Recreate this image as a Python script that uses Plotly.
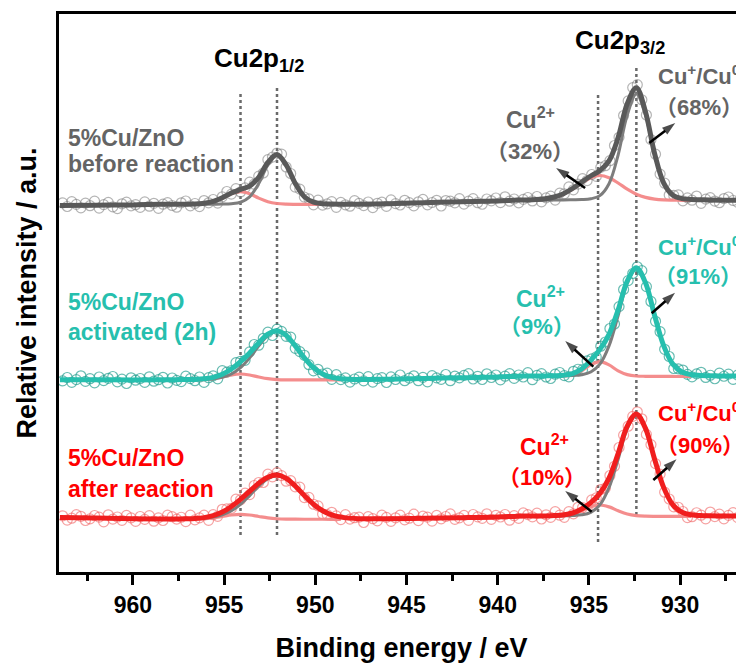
import plotly.graph_objects as go

# ---------------- measured points (binding energy, eV) ----------------
E_data = [963.85, 963.6, 963.35, 963.1, 962.85, 962.6, 962.35, 962.1, 961.85, 961.6, 961.35, 961.1, 960.85,
          960.6, 960.35, 960.1, 959.85, 959.6, 959.35, 959.1, 958.85, 958.6, 958.35, 958.1, 957.85, 957.6,
          957.35, 957.1, 956.85, 956.6, 956.35, 956.1, 955.85, 955.6, 955.35, 955.1, 954.85, 954.6, 954.35,
          954.1, 953.85, 953.6, 953.35, 953.1, 952.85, 952.6, 952.35, 952.1, 951.85, 951.6, 951.35, 951.1,
          950.85, 950.6, 950.35, 950.1, 949.85, 949.6, 949.35, 949.1, 948.85, 948.6, 948.35, 948.1, 947.85, 947.6,
          947.35, 947.1, 946.85, 946.6, 946.35, 946.1, 945.85, 945.6, 945.35, 945.1, 944.85, 944.6, 944.35,
          944.1, 943.85, 943.6, 943.35, 943.1, 942.85, 942.6, 942.35, 942.1, 941.85, 941.6, 941.35, 941.1,
          940.85, 940.6, 940.35, 940.1, 939.85, 939.6, 939.35, 939.1, 938.85, 938.6,
          938.35, 938.1, 937.85, 937.6, 937.35, 937.1, 936.85, 936.6, 936.35, 936.1, 935.85, 935.6, 935.35,
          935.1, 934.85, 934.6, 934.35, 934.1, 933.85, 933.6, 933.35, 933.1, 932.85, 932.6, 932.35, 932.1,
          931.85, 931.6, 931.35, 931.1, 930.85, 930.6, 930.35, 930.1, 929.85, 929.6, 929.35, 929.1, 928.85,
          928.6, 928.35, 928.1, 927.85, 927.6, 927.35, 927.1, 926.85, 926.6]

gray_data = [369.1, 365.5, 370.4, 367.6, 364.2, 368.9, 366.3, 370.8, 363.9, 367.4, 369.6, 365.1, 363.4, 368.2,
             369.9, 366.1, 367.3, 364.6, 370.1, 365.8, 368.7, 363.7, 367.8, 369.4, 366.5, 364.8,
             369.2, 371.0, 366.1, 368.5, 365.4, 371.45, 369.2, 372.5, 368.95, 375.2, 380.5, 377.9, 383.3, 380.05,
             384.1, 389.9, 387.8, 395.9, 399.0, 412.4, 414.9, 419.0, 417.9, 405.0, 398.5, 384.85, 382.9, 374.9,
             373.1, 367.2, 371.8, 366.95, 368.2, 370.4, 364.65, 369.6, 367.2, 365.8, 371.3, 368.65,
             366.4, 370.0, 364.45, 368.7, 369.8, 365.6, 372.15, 368.4, 367.0, 371.7, 369.35, 366.1, 370.2, 372.6,
             367.15, 369.5, 371.7, 366.0, 371.45, 370.8, 369.2, 373.4, 367.95, 370.9, 373.3, 369.3, 367.75, 373.0,
             371.2, 374.0, 369.45, 375.2, 370.8, 373.0, 369.15, 372.6,
             374.5, 371.05, 375.5, 370.2, 374.1, 375.8, 371.9, 378.9, 378.2, 385.1, 382.2, 387.95, 393.4, 391.45,
             397.5, 395.6, 404.6, 406.3, 411.3, 426.5, 434.7, 456.5, 471.05, 484.4, 487.3, 472.25, 457.0, 432.4,
             417.8, 397.9, 388.8, 376.95, 376.6, 377.1, 371.2, 374.1, 371.8, 375.95, 368.7, 372.9, 374.4, 370.95,
             369.3, 373.45, 375.0, 371.5, 369.6, 373.85]

teal_data = [191.1, 194.5, 189.7, 192.4, 196.2, 190.6, 193.3, 189.2, 195.0, 191.4, 193.7, 195.5, 190.1, 192.9,
             188.5, 194.2, 191.8, 193.5, 189.6, 195.2, 190.8, 192.3, 194.7, 189.0, 194.0, 191.6,
             190.4, 195.9, 193.4, 191.3, 195.0, 189.6, 194.3, 196.2, 193.2, 201.4, 199.9, 201.3, 209.4, 210.7,
             211.7, 220.1, 227.5, 226.8, 233.7, 239.8, 236.5, 242.8, 240.6, 235.65, 234.9, 223.7, 220.4, 216.75,
             207.3, 201.1, 202.7, 198.0, 198.8, 192.7, 197.4, 192.35, 194.1, 189.85, 193.0, 194.85,
             191.1, 195.4, 189.9, 193.4, 194.4, 189.5, 195.1, 192.5, 197.0, 191.3, 193.9, 196.2, 191.3, 194.6,
             190.2, 196.3, 194.1, 192.6, 197.5, 191.3, 195.9, 194.1, 196.6, 198.3, 193.0, 195.7, 192.5, 198.2,
             194.5, 197.0, 192.2, 195.8, 198.4, 193.6, 197.0, 195.0,
             199.4, 192.3, 196.7, 198.3, 195.0, 193.5, 197.8, 199.5, 196.4, 195.2, 200.7, 202.75, 202.3, 211.1,
             213.2, 215.1, 225.8, 230.0, 243.5, 248.0, 265.4, 282.5, 291.4, 298.5, 305.25, 301.4, 285.4, 270.55,
             250.7, 240.3, 222.7, 215.5, 203.5, 203.1, 201.95, 197.65, 195.1, 198.15, 199.7, 194.55, 196.75,
             193.25, 198.8, 195.76, 197.9, 192.6, 196.9, 199.55]

red_data = [56.2, 51.9, 53.8, 57.3, 55.7, 51.5, 53.1, 56.5, 54.9, 50.1, 57.2, 52.9, 55.0, 51.7, 56.6, 54.1,
            50.6, 55.5, 52.6, 56.4, 50.8, 54.1, 51.5, 56.9, 55.3, 52.9,
            54.75, 50.34, 56.8, 52.16, 54.1, 56.9, 51.7, 57.3, 55.7, 62.7, 63.1, 63.6, 72.9, 72.2, 78.9, 77.4,
            86.5, 89.5, 89.5, 97.8, 95.2, 99.4, 96.4, 90.8, 91.4, 85.1, 84.9, 74.45, 74.6, 67.74, 66.1, 58.0,
            57.4, 59.7, 56.1, 52.4, 57.4, 52.9, 54.3, 54.86,
            49.5, 55.4, 53.3, 51.2, 56.9, 54.65, 50.7, 54.2, 56.8, 52.2, 53.8, 57.8, 51.4, 55.8, 54.9, 50.85,
            56.6, 53.2, 55.5, 58.1, 52.7, 54.2, 56.6, 51.7, 57.5, 55.15, 53.7, 58.2, 52.7, 56.6, 55.0, 57.5,
            51.8, 56.3, 53.6, 59.05,
            57.4, 55.1, 58.8, 53.0, 57.2, 54.6, 60.4, 56.8, 54.7, 60.3, 58.2, 64.7, 64.45, 63.0, 72.05, 74.1,
            82.5, 83.8, 96.5, 105.75, 124.5, 136.8, 145.8, 155.6, 160.2, 153.2, 137.6, 127.4, 108.4, 97.8, 79.8,
            73.0, 65.2, 64.75, 60.5, 54.4, 55.3, 59.25, 56.8, 53.15, 59.97, 55.36, 57.9, 53.2, 56.6, 59.35,
            54.4, 58.0]

# ---------------- fitted envelopes ----------------
E_fit = [964, 962, 960, 958.6, 957.6, 957.1, 956.6, 956.1, 955.6, 955.1, 954.6, 954.1, 953.6, 953.1, 952.6,
         952.1, 951.6, 951.1, 950.6, 950.1, 949.6, 949.1, 948.6, 947.6, 946, 944, 942, 940, 938.9, 938.4,
         937.9, 937.4, 936.9, 936.4, 935.9, 935.4, 934.9, 934.4, 933.9, 933.4, 932.9, 932.4, 931.9, 931.4,
         930.9, 930.4, 929.9, 929.4, 928.9, 928.4, 927.4, 926.5]

gray_fit = [366.5, 366.8, 367.1, 367.7, 367.75, 367.83, 368.03, 368.75, 370.6, 374.3, 379.0, 382.55, 385.9,
            394.8, 409.6, 417.5, 407.1, 388.55, 375.3, 369.8, 368.35, 367.9, 367.8, 367.75, 368.3, 369.3,
            370.3, 371.1, 371.9, 372.05, 372.4, 373.25, 375.0, 378.3, 383.5, 389.9, 396.0, 401.4, 411.1, 434.5,
            468.3, 484.3, 460.1, 418.4, 388.9, 376.75, 373.4, 372.55, 372.3, 372.0, 371.8, 371.75]

teal_fit = [192.3, 192.2, 192.1, 192.25, 192.35, 192.42, 192.59, 193.14, 194.57, 197.7, 203.0, 210.3, 219.1,
            229.1, 237.8, 241.3, 236.65, 226.2, 214.15, 204.34, 198.03, 194.7, 193.25, 192.44, 192.8, 193.5,
            194.3, 195.0, 195.85, 195.92, 196.0, 196.1, 196.3, 196.8, 198.46, 203.0, 211.6, 222.6, 237.7, 262.1,
            290.9, 304.3, 289.2, 256.5, 226.2, 207.85, 200.0, 197.3, 196.55, 196.3, 196.0, 195.9]

red_fit = [54.5, 54.0, 53.3, 53.0, 53.1, 53.24, 53.56, 54.4, 56.3, 59.9, 65.5, 72.7, 80.7, 88.7, 94.8, 96.97,
           93.6, 86.0, 76.45, 67.74, 61.23, 57.1, 54.9, 53.36, 53.3, 53.8, 54.3, 55.0, 55.85, 55.9, 56.0, 56.1,
           56.4, 57.1, 59.0, 62.95, 69.3, 78.6, 93.9, 118.45, 145.8, 158.1, 143.6, 112.85, 84.4, 67.2, 59.75,
           57.2, 56.5, 56.2, 56.0, 55.9]

# ---------------- fitted components ----------------
E_c12 = [957.1, 956.6, 956.1, 955.6, 955.1, 954.6, 954.1, 953.6, 953.1, 952.6, 952.1, 951.6, 951.1, 950.6,
         950.1, 949.6, 949.1, 948.6]
E_c32 = [938.4, 937.9, 937.4, 936.9, 936.4, 935.9, 935.4, 934.9, 934.4, 933.9, 933.4, 932.9, 932.4, 931.9,
         931.4, 930.9, 930.4, 929.9, 929.4]

gray_cu1_12 = [367.7, 367.7, 367.75, 367.8, 367.9, 368.3, 369.75, 375.2, 388.4, 406.8, 416.5, 406.8, 388.4,
               375.2, 369.75, 368.3, 367.9, 367.8]
gray_cu2_12 = [367.65, 367.83, 368.5, 370.3, 373.9, 378.2, 380.3, 378.2, 373.9, 370.3, 368.5, 367.83, 367.65,
               367.6, 367.58, 367.55, 367.5, 367.5]
gray_cu1_32 = [371.7, 371.8, 371.85, 371.9, 372.0, 372.2, 372.4, 373.2, 376.4, 388.3, 417.0, 457.0, 478.0,
               457.0, 417.0, 388.3, 376.4, 373.2, 372.4]
gray_cu2_32 = [371.85, 372.1, 372.9, 374.6, 377.8, 382.8, 389.0, 394.3, 396.5, 394.3, 389.0, 382.8, 377.8,
               374.6, 372.9, 372.1, 371.85, 371.7, 371.65]

teal_cu1_12 = [192.35, 192.44, 192.68, 193.25, 194.7, 198.0, 204.3, 214.1, 226.1, 236.5, 240.8, 236.5, 226.1,
               214.1, 204.3, 198.0, 194.7, 193.25]
teal_cu2_12 = [192.07, 192.15, 192.46, 193.32, 195.0, 197.0, 198.0, 197.0, 195.0, 193.32, 192.46, 192.15,
               192.07, 192.05, 192.04, 192.03, 192.0, 192.0]
teal_cu1_32 = [195.85, 195.9, 196.0, 196.1, 196.3, 196.55, 197.3, 200.0, 207.8, 226.1, 256.4, 289.0, 303.8,
               289.0, 256.4, 226.1, 207.8, 200.0, 197.3]
teal_cu2_32 = [195.55, 195.6, 195.6, 195.7, 196.0, 197.4, 201.2, 207.1, 210.3, 207.1, 201.2, 197.4, 196.0,
               195.7, 195.6, 195.6, 195.55, 195.5, 195.5]

red_cu1_12 = [53.15, 53.36, 53.82, 54.9, 57.1, 61.2, 67.7, 76.4, 85.9, 93.4, 96.4, 93.4, 85.9, 76.4, 67.7,
              61.2, 57.1, 54.9]
red_cu2_12 = [52.79, 52.9, 53.27, 54.1, 55.5, 57.0, 57.7, 57.0, 55.5, 54.1, 53.27, 52.9, 52.79, 52.75, 52.74,
              52.73, 52.7, 52.7]
red_cu1_32 = [55.85, 55.9, 56.0, 56.1, 56.2, 56.5, 57.2, 59.7, 67.1, 84.3, 112.7, 143.3, 157.2, 143.3, 112.7,
              84.3, 67.1, 59.7, 57.2]
red_cu2_32 = [55.57, 55.6, 55.64, 55.8, 56.37, 58.0, 61.25, 65.1, 67.0, 65.1, 61.25, 58.0, 56.37, 55.8, 55.64,
              55.6, 55.57, 55.55, 55.5]

# reference peak positions (dotted guides)
peak_positions = [954.1, 952.1, 934.5, 932.4]

# labels
sample_labels = [["5%Cu/ZnO", "before reaction"], ["5%Cu/ZnO", "activated (2h)"], ["5%Cu/ZnO", "after reaction"]]
cu2_share = ["32%", "9%", "10%"]
cu1_share = ["68%", "91%", "90%"]

for arr in (gray_data, teal_data, red_data):
    assert len(arr) == len(E_data)
for arr in (gray_fit, teal_fit, red_fit):
    assert len(arr) == len(E_fit)
for arr in (gray_cu1_12, gray_cu2_12, teal_cu1_12, teal_cu2_12, red_cu1_12, red_cu2_12):
    assert len(arr) == len(E_c12)
for arr in (gray_cu1_32, gray_cu2_32, teal_cu1_32, teal_cu2_32, red_cu1_32, red_cu2_32):
    assert len(arr) == len(E_c32)

# ---------------- figure ----------------
FONT = "Liberation Sans, Arial, Noto Sans CJK SC, sans-serif"
CJK = "Noto Sans CJK SC"
PINK = "rgba(243,135,135,0.95)"
COMP_GRAY = "#7d7d7d"

series = [
    dict(data=gray_data, fit=gray_fit, c1=(gray_cu1_12, gray_cu1_32), c2=(gray_cu2_12, gray_cu2_32),
         color="#595959", text="#646464", marker="rgba(130,130,130,0.6)"),
    dict(data=teal_data, fit=teal_fit, c1=(teal_cu1_12, teal_cu1_32), c2=(teal_cu2_12, teal_cu2_32),
         color="#26bfae", text="#26bfae", marker="rgba(40,160,145,0.7)"),
    dict(data=red_data, fit=red_fit, c1=(red_cu1_12, red_cu1_32), c2=(red_cu2_12, red_cu2_32),
         color="#f01e1e", text="#ff0000", marker="rgba(240,100,100,0.6)"),
]

fig = go.Figure()
for s in series:
    fig.add_trace(go.Scatter(x=E_data, y=s["data"], mode="markers", hoverinfo="skip", showlegend=False,
                             marker=dict(symbol="circle-open", size=10, color=s["marker"], line=dict(width=1.2))))
for s in series:
    for xs, ys in zip((E_c12, E_c32), s["c2"]):
        fig.add_trace(go.Scatter(x=xs, y=ys, mode="lines", hoverinfo="skip", showlegend=False,
                                 line=dict(color=PINK, width=3.2, shape="spline")))
    for xs, ys in zip((E_c12, E_c32), s["c1"]):
        fig.add_trace(go.Scatter(x=xs, y=ys, mode="lines", hoverinfo="skip", showlegend=False,
                                 line=dict(color=COMP_GRAY, width=3, shape="spline")))
    fig.add_trace(go.Scatter(x=E_fit, y=s["fit"], mode="lines", hoverinfo="skip", showlegend=False,
                             line=dict(color=s["color"], width=5, shape="spline")))

# dotted guide lines
line_spans = [(37, 480), (37, 484), (30, 478), (57, 507)]
for e, (y0, y1) in zip(peak_positions, line_spans):
    fig.add_shape(type="line", xref="x", yref="y", x0=e, x1=e, y0=y0, y1=y1, layer="below",
                  line=dict(color="#6a6a6a", width=2.5, dash="dot"))

# pointer arrows (tail -> head), drawn as small traces
arrows = [((935.21, 384), (936.80, 404)), ((931.70, 429), (930.27, 449)),
          ((934.76, 205.3), (936.30, 231)), ((931.56, 258.7), (930.28, 279.3)),
          ((934.85, 60.3), (936.30, 81)), ((931.47, 92), (930.20, 112.7))]
for (xt, yt), (xh, yh) in arrows:
    fig.add_trace(go.Scatter(x=[xt, xh], y=[yt, yh], mode="lines+markers", hoverinfo="skip", showlegend=False,
                             line=dict(color="black", width=2.5),
                             marker=dict(symbol=["circle", "arrow"], size=[0.1, 14], angleref="previous",
                                         color="black", line=dict(width=0))))

ann = []


def txt(x, y, text, color, size, xanchor="center"):
    ann.append(dict(x=x, y=y, xref="x", yref="y", text=text, showarrow=False, xanchor=xanchor, yanchor="middle",
                    font=dict(family=FONT, size=size, color=color, weight="bold")))


def paren(s):
    return ("<span style='font-family:" + CJK + "'>（</span>" + s +
            "<span style='font-family:" + CJK + "'>）</span>")


# orbital titles
txt(953.09, 513, "Cu2p<sub>1/2</sub>", "black", 26)
txt(933.32, 531, "Cu2p<sub>3/2</sub>", "black", 26)

# sample labels
label_y = [(434.5, 408), (270.3, 240.3), (114.5, 83)]
for (l1, l2), (y1, y2), s in zip(sample_labels, label_y, series):
    txt(963.67, y1, l1, s["text"], 23, "left")
    txt(963.67, y2, l2, s["text"], 23, "left")

# component labels
cu2_pos = [(938.23, 454, 938.25, 423), (937.68, 275, 937.84, 248), (937.41, 127, 937.57, 97)]
cu1_pos = [(931.30, 497, 928.99, 467), (931.30, 326, 929.02, 298), (931.30, 160, 928.9, 129)]
for s, sh2, sh1, p2, p1 in zip(series, cu2_share, cu1_share, cu2_pos, cu1_pos):
    txt(p2[0], p2[1], "Cu<sup>2+</sup>", s["text"], 23)
    txt(p2[2], p2[3], paren(sh2), s["text"], 22)
    txt(p1[0], p1[1], "Cu<sup>+</sup>/Cu<sup>0</sup>", s["text"], 22, "left")
    txt(p1[2], p1[3], paren(sh1), s["text"], 22)

# the page adds an 8px body margin, so the figure is drawn 8px smaller and offset accordingly
fig.update_layout(
    width=736, height=655,
    margin=dict(l=51, r=0, t=6, b=91),
    paper_bgcolor="white", plot_bgcolor="white",
    hovermode=False, showlegend=False,
    font=dict(family=FONT, color="black"),
    annotations=ann,
    xaxis=dict(range=[964.05, 926.5], showgrid=False, zeroline=False,
               showline=True, linewidth=3, linecolor="black", mirror=True,
               ticks="outside", ticklen=10, tickwidth=3, tickcolor="black",
               tick0=930, dtick=5,
               minor=dict(ticks="outside", ticklen=6, tickwidth=3, tickcolor="black", tick0=932.5, dtick=5),
               tickfont=dict(family=FONT, size=23, color="black", weight="bold"),
               title=dict(text="Binding energy / eV", standoff=23,
                          font=dict(family=FONT, size=27, color="black", weight="bold"))),
    yaxis=dict(range=[0, 558], showgrid=False, zeroline=False,
               showline=True, linewidth=3, linecolor="black", mirror=False,
               showticklabels=False, ticks="",
               title=dict(text="Relative intensity / a.u.", standoff=12,
                          font=dict(family=FONT, size=27, color="black", weight="bold"))),
)

fig.write_html("out.html")
